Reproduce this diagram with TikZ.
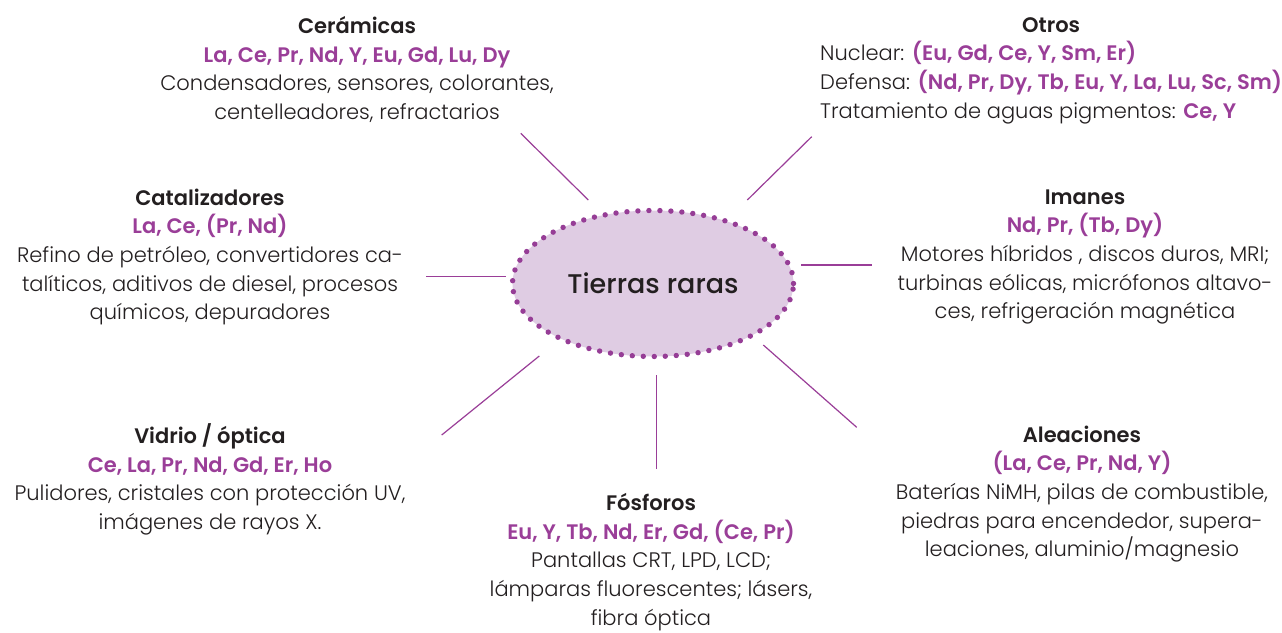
\documentclass[tikz,border=0pt]{standalone}
\usepackage{fontspec}
\setmainfont{Poppins}[UprightFont=* Light, BoldFont=* SemiBold]
\newfontfamily\rrhubfont{Poppins Medium}
\usetikzlibrary{shapes.geometric}
\definecolor{rrpurple}{HTML}{9A3E98}
\definecolor{rrdot}{HTML}{963D96}
\definecolor{rrfill}{HTML}{DFCCE3}
\definecolor{rrtext}{HTML}{231F20}
\newcommand{\rrel}[1]{\textcolor{rrpurple}{\bfseries #1}}
\begin{document}
\begin{tikzpicture}[x=1pt,y=-1pt,
  blk/.style={align=center, inner sep=0pt, text=rrtext, font=\fontsize{21}{28.7}\selectfont},
  conn/.style={draw=rrpurple, line width=1.2pt},
  hub/.style={ellipse, fill=rrfill, draw=rrdot, line width=5.4pt, line cap=round,
    dash pattern=on 0pt off 11pt, minimum width=281pt, minimum height=146pt, inner sep=0pt,
    text=rrtext, font=\rrhubfont\fontsize{27}{32}\selectfont}
  ]
\useasboundingbox[fill=white] (0,0) rectangle (1282,632);
\node[hub] (tr) at (653,283.5) {Tierras raras};

\node[blk] (cer) at (357,69.5) {{\bfseries Cerámicas}\\ \rrel{La, Ce, Pr, Nd, Y, Eu, Gd, Lu, Dy}\\ Condensadores, sensores, colorantes,\\ centelleadores, refractarios};
\node[blk, anchor=west] (otr) at (820,69.5) {\begin{tabular}{@{}l@{}}\multicolumn{1}{@{}c@{}}{\bfseries Otros}\\ Nuclear: \rrel{(Eu, Gd, Ce, Y, Sm, Er)}\\ Defensa: \rrel{(Nd, Pr, Dy, Tb, Eu, Y, La, Lu, Sc, Sm)}\\ Tratamiento de aguas pigmentos: \rrel{Ce, Y}\end{tabular}};
\node[blk] (cat) at (210,257) {{\bfseries Catalizadores}\\ \rrel{La, Ce, (Pr, Nd)}\\ Refino de petróleo, convertidores ca-\\ talíticos, aditivos de diesel, procesos\\ químicos, depuradores};
\node[blk] (ima) at (1085,257) {{\bfseries Imanes}\\ \rrel{Nd, Pr, (Tb, Dy)}\\ Motores híbridos , discos duros, MRI;\\ turbinas eólicas, micrófonos altavo-\\ ces, refrigeración magnética};
\node[blk] (vid) at (210,479.5) {{\bfseries Vidrio / óptica}\\ \rrel{Ce, La, Pr, Nd, Gd, Er, Ho}\\ Pulidores, cristales con protección UV,\\ imágenes de rayos X.};
\node[blk] (fos) at (651,562) {{\bfseries Fósforos}\\ \rrel{Eu, Y, Tb, Nd, Er, Gd, (Ce, Pr)}\\ Pantallas CRT, LPD, LCD;\\ lámparas fluorescentes; lásers,\\ fibra óptica};
\node[blk] (ale) at (1082,494) {{\bfseries Aleaciones}\\ \rrel{(La, Ce, Pr, Nd, Y)}\\ Baterías NiMH, pilas de combustible,\\ piedras para encendedor, supera-\\ leaciones, aluminio/magnesio};

\coordinate (cerA) at (520.7,133.3); \coordinate (cerB) at (588.3,200);
\coordinate (otrA) at (811.7,136.7); \coordinate (otrB) at (747.3,200);
\coordinate (catA) at (426,276.7);   \coordinate (catB) at (505.7,276.7);
\coordinate (imaA) at (871.7,265);   \coordinate (imaB) at (800.7,265);
\coordinate (vidA) at (441.7,435);   \coordinate (vidB) at (539.3,356);
\coordinate (fosA) at (656.7,469);   \coordinate (fosB) at (656.7,375);
\coordinate (aleA) at (856.7,427.3); \coordinate (aleB) at (763.3,345);
\foreach \k in {cer,otr,cat,ima,vid,fos,ale} \draw[conn] (\k A) -- (\k B);
\end{tikzpicture}
\end{document}
